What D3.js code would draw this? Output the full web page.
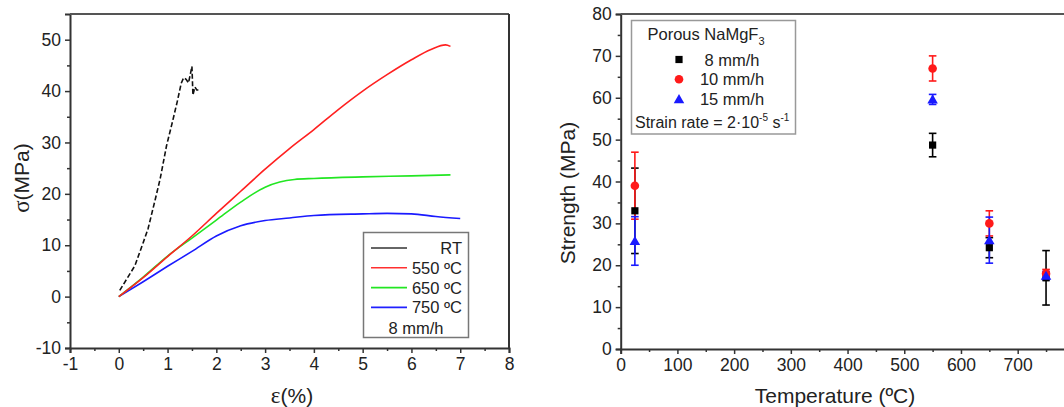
<!DOCTYPE html>
<html><head><meta charset="utf-8">
<script src="https://cdn.jsdelivr.net/npm/d3@7"></script>
<style>body{margin:0;background:#fff}svg{display:block}text{font-family:"Liberation Sans",Arial,sans-serif;fill:#222}</style>
</head><body><svg id="c" width="1064" height="407"></svg>
<script>
// ---- Left chart: stress-strain curves (8 mm/h) ----
const rtStrain  = [0.02,0.2,0.33,0.5,0.6,0.75,0.85,0.98,1.1,1.2,1.28,1.33,1.38,1.43,1.5,1.52,1.56,1.6,1.64];
const rtStress  = [1.2,4,6,10.5,13.2,19,23,29.4,34,38,41.5,42.6,42.3,41.6,44.8,39.2,40.8,40.2,40.2];
const s550Strain = [0,0.5,1,1.5,2,2.5,3,3.5,4,4.5,5,5.5,6,6.4,6.7,6.8];
const s550Stress = [0,3.7,7.8,11.8,16.2,20.5,24.8,28.8,32.5,36.4,40,43.2,46.1,48.1,49,48.7];
const s650Strain = [0,0.5,1,1.5,2,2.5,3,3.3,3.6,4,5,6,6.8];
const s650Stress = [0,3.8,7.9,11.4,14.9,18.4,21.3,22.3,22.8,23,23.3,23.5,23.7];
const s750Strain = [0,0.5,1,1.5,2,2.5,3,3.5,4,5,5.5,6,6.5,7];
const s750Stress = [0,2.9,5.9,8.8,11.8,13.8,14.8,15.3,15.8,16.1,16.2,16.1,15.6,15.2];
const leftXTicks = [-1,0,1,2,3,4,5,6,7,8];
const leftYTicks = [-10,0,10,20,30,40,50];
const leftLegend = ["RT","550 ºC","650 ºC","750 ºC"];

// ---- Right chart: strength vs temperature ----
const temps = [25,550,650,750];
const str8  = [33,48.7,24.2,17];   const err8  = [10.2,2.8,2.4,6.5];
const str10 = [39,67,30,18];       const err10 = [8,3,3,1];
const str15 = [25.8,59.6,26,17.5]; const err15 = [5.8,1.2,5.5,1];
const rightXTicks = [0,100,200,300,400,500,600,700];
const rightYTicks = [0,10,20,30,40,50,60,70,80];
const rightLegend = ["8 mm/h","10 mm/h","15 mm/h"];

const svg = d3.select("#c");
const AX = "#333";
const fmt = d => String(d); // plain hyphen minus, as in the reference

function frame(g, x, y, xr, yr, xt, yt, xMinor, yMinor){
  const xAx = d3.axisBottom(x).tickValues(xt).tickSize(5).tickPadding(5).tickFormat(fmt);
  const yAx = d3.axisLeft(y).tickValues(yt).tickSize(5).tickPadding(4).tickFormat(fmt);
  const gx = g.append("g").attr("transform",`translate(0,${yr[0]})`).call(xAx);
  const gy = g.append("g").attr("transform",`translate(${xr[0]},0)`).call(yAx);
  g.append("g").attr("transform",`translate(0,${yr[0]})`).call(d3.axisBottom(x).tickValues(xMinor).tickSize(3).tickFormat(""))
   .call(s=>s.select(".domain").remove()).selectAll("line").attr("stroke",AX).attr("stroke-width",1.5);
  g.append("g").attr("transform",`translate(${xr[0]},0)`).call(d3.axisLeft(y).tickValues(yMinor).tickSize(3).tickFormat(""))
   .call(s=>s.select(".domain").remove()).selectAll("line").attr("stroke",AX).attr("stroke-width",1.5);
  [gx,gy].forEach(a=>{
    a.select(".domain").attr("stroke",AX).attr("stroke-width",2);
    a.selectAll(".tick line").attr("stroke",AX).attr("stroke-width",1.5);
    a.selectAll("text").style("font-size","17.5px").attr("fill","#222");
  });
  g.append("line").attr("x1",xr[0]).attr("x2",xr[1]).attr("y1",yr[1]).attr("y2",yr[1]).attr("stroke","#555").attr("stroke-width",2);
  g.append("line").attr("x1",xr[1]).attr("x2",xr[1]).attr("y1",yr[1]).attr("y2",yr[0]).attr("stroke","#333").attr("stroke-width",2);
}

// Left chart
const xL = d3.scaleLinear().domain([-1,8]).range([70,509]);
const yL = d3.scaleLinear().domain([-10,55]).range([348,14]);
const gL = svg.append("g");
frame(gL, xL, yL, [70,509], [348,14], leftXTicks, leftYTicks,
  d3.range(-0.5,8,1), d3.range(-5,55,10));
const lineSmooth = d3.line().x(d=>xL(d[0])).y(d=>yL(d[1])).curve(d3.curveMonotoneX);
const lineRaw = d3.line().x(d=>xL(d[0])).y(d=>yL(d[1]));
const curves = [
  {xs:rtStrain, ys:rtStress, c:"#111", dash:"5,2.5", raw:true},
  {xs:s750Strain, ys:s750Stress, c:"#1a1aff"},
  {xs:s650Strain, ys:s650Stress, c:"#22e622"},
  {xs:s550Strain, ys:s550Stress, c:"#ff2020"}
];
curves.forEach(cv=>{
  gL.append("path").datum(cv.xs.map((v,i)=>[v,cv.ys[i]])).attr("d",cv.raw?lineRaw:lineSmooth)
    .attr("fill","none").attr("stroke",cv.c).attr("stroke-width",1.6)
    .attr("stroke-dasharray",cv.dash||null);
});
// Left legend
gL.append("rect").attr("x",363.5).attr("y",232.5).attr("width",105).attr("height",105)
  .attr("fill","#fff").attr("stroke","#777").attr("stroke-width",1.5);
const lcol = ["#333","#ff3030","#22e622","#2020ff"];
leftLegend.forEach((t,i)=>{
  const yy = 248 + i*19.8;
  gL.append("line").attr("x1",371).attr("x2",407).attr("y1",yy).attr("y2",yy).attr("stroke",lcol[i]).attr("stroke-width",1.6);
  gL.append("text").attr("x",462).attr("y",yy+6).attr("text-anchor","end").style("font-size","16.5px").text(t);
});
gL.append("text").attr("x",416).attr("y",334).attr("text-anchor","middle").style("font-size","16.5px").text("8 mm/h");
// left axis titles
gL.append("text").attr("transform","translate(29,178) rotate(-90)").attr("text-anchor","middle").style("font-size","21px")
  .html('<tspan style="font-family:\'Liberation Serif\',serif;font-size:23px">σ</tspan>(MPa)');
gL.append("text").attr("x",292).attr("y",403).attr("text-anchor","middle").style("font-size","21px")
  .html('<tspan style="font-family:\'Liberation Serif\',serif;font-size:23px">ε</tspan>(%)');

// Right chart
const xR = d3.scaleLinear().domain([0,800]).range([620.7,1074.4]);
const yR = d3.scaleLinear().domain([0,80]).range([349,14]);
const gR = svg.append("g");
frame(gR, xR, yR, [620.7,1074.4], [349,14], rightXTicks, rightYTicks,
  d3.range(50,800,100), d3.range(5,80,10));
const series = [
  {v:str8, e:err8, c:"#000", shape:"sq"},
  {v:str10, e:err10, c:"#ff1a1a", shape:"ci"},
  {v:str15, e:err15, c:"#1a1aff", shape:"tr"}
];
series.forEach(s=>{
  temps.forEach((t,i)=>{
    const px = xR(t), lo = yR(s.v[i]-s.e[i]), hi = yR(s.v[i]+s.e[i]);
    gR.append("line").attr("x1",px).attr("x2",px).attr("y1",lo).attr("y2",hi).attr("stroke",s.c).attr("stroke-width",1.6);
    [lo,hi].forEach(yy=>gR.append("line").attr("x1",px-3.8).attr("x2",px+3.8).attr("y1",yy).attr("y2",yy).attr("stroke",s.c).attr("stroke-width",1.6));
  });
});
const sym = {sq:d3.symbolSquare, ci:d3.symbolCircle, tr:d3.symbolTriangle};
const size = {sq:52, ci:58, tr:48};
series.forEach(s=>{
  temps.forEach((t,i)=>{
    gR.append("path").attr("d",d3.symbol(sym[s.shape],size[s.shape])())
      .attr("transform",`translate(${xR(t)},${yR(s.v[i])+(s.shape==="tr"?1:0)})`).attr("fill",s.c);
  });
});
// Right legend
gR.append("rect").attr("x",631.5).attr("y",20.5).attr("width",164).attr("height",113.5)
  .attr("fill","#fff").attr("stroke","#999").attr("stroke-width",1.5);
gR.append("text").attr("x",706).attr("y",40).attr("text-anchor","middle").style("font-size","16.5px")
  .html('Porous NaMgF<tspan dy="5" style="font-size:11px">3</tspan>');
series.forEach((s,i)=>{
  const yy = 59.5 + i*19.8;
  gR.append("path").attr("d",d3.symbol(sym[s.shape],size[s.shape])())
    .attr("transform",`translate(679,${yy+(s.shape==="tr"?1:0)})`).attr("fill",s.c);
  gR.append("text").attr("x",732).attr("y",yy+6).attr("text-anchor","middle").style("font-size","16.5px").text(rightLegend[i]);
});
gR.append("text").attr("x",635).attr("y",128).style("font-size","16px")
  .html('Strain rate = 2·10<tspan dy="-7" style="font-size:10px">-5</tspan><tspan dy="7"> s</tspan><tspan dy="-7" style="font-size:10px">-1</tspan>');
gR.append("text").attr("transform","translate(575,193) rotate(-90)").attr("text-anchor","middle").style("font-size","21px").text("Strength (MPa)");
gR.append("text").attr("x",835).attr("y",403).attr("text-anchor","middle").style("font-size","21px").text("Temperature (ºC)");
</script></body></html>
